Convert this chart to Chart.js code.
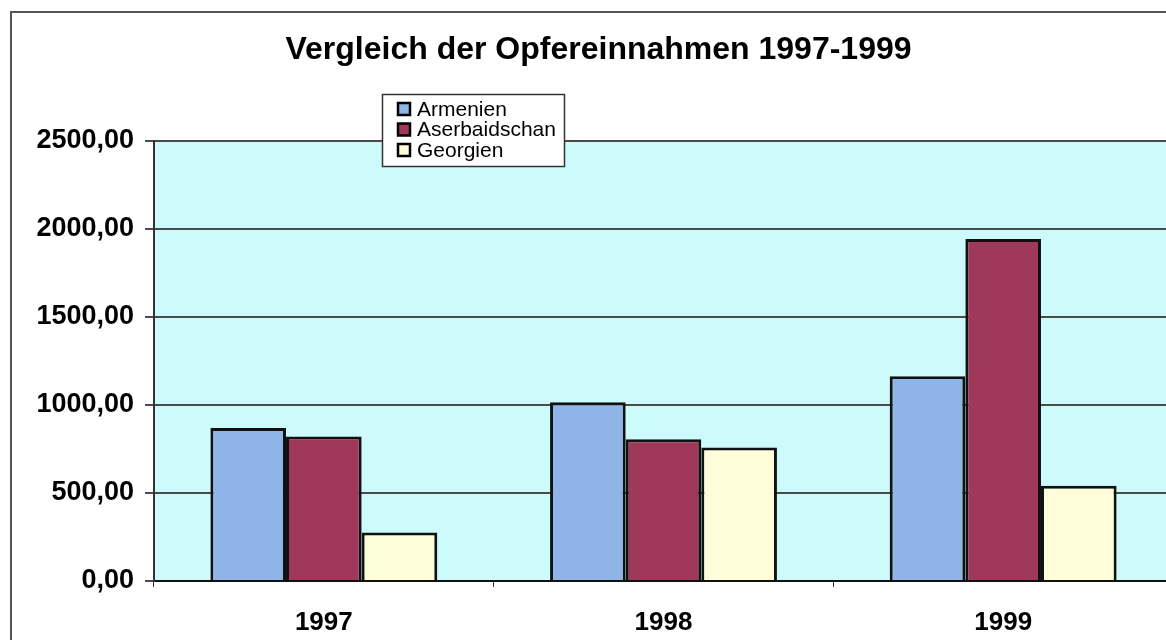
<!DOCTYPE html>
<html lang="de">
<head>
<meta charset="utf-8">
<title>Vergleich der Opfereinnahmen 1997-1999</title>
<script src="https://cdn.jsdelivr.net/npm/chart.js@4/dist/chart.umd.min.js"></script>
<style>
  html, body { margin: 0; padding: 0; background: #fff; overflow: hidden; }
  #wrap { position: absolute; left: 0; top: 0; width: 1190px; height: 640px; }
  #frame { position: absolute; left: 10px; top: 11px; width: 1300px; height: 700px; border: 2px solid #555; box-sizing: border-box; }
  #chart { position: absolute; left: 0; top: 0; }
</style>
</head>
<body>
<div id="wrap">
  <div id="frame"></div>
  <canvas id="chart" width="1190" height="640"></canvas>
</div>
<script>
// Opfereinnahmen je Land und Jahr
const years = ['1997', '1998', '1999'];
const armenien = [869, 1015, 1163];
const aserbaidschan = [821, 806, 1943];
const georgien = [275, 758, 541];
const yTicks = [0, 500, 1000, 1500, 2000, 2500];

const FONT = 'Arial, "Liberation Sans", sans-serif';

// light cyan plot background
const plotBackground = {
  id: 'plotBackground',
  beforeDraw(chart) {
    const { ctx, chartArea: a } = chart;
    ctx.save();
    ctx.fillStyle = '#cdfafa';
    ctx.fillRect(a.left, a.top, a.right - a.left, a.bottom - a.top);
    ctx.restore();
  }
};

// boxed legend sitting over the top of the plot
const boxLegend = {
  id: 'boxLegend',
  afterDraw(chart) {
    const ctx = chart.ctx;
    const x = 382, y = 94, w = 182, h = 72;
    ctx.save();
    ctx.fillStyle = '#fff';
    ctx.fillRect(x, y, w, h);
    ctx.strokeStyle = '#333';
    ctx.lineWidth = 1.5;
    ctx.strokeRect(x + 0.5, y + 0.5, w, h);
    ctx.font = '21px ' + FONT;
    ctx.textBaseline = 'middle';
    chart.data.datasets.forEach((ds, i) => {
      const cy = y + 15 + i * 20.5;
      ctx.fillStyle = ds.backgroundColor;
      ctx.fillRect(x + 16, cy - 6, 12, 12);
      ctx.strokeStyle = '#000';
      ctx.lineWidth = 2.5;
      ctx.strokeRect(x + 16, cy - 6, 12, 12);
      ctx.fillStyle = '#000';
      ctx.fillText(ds.label, x + 35, cy + 1);
    });
    ctx.restore();
  }
};

new Chart(document.getElementById('chart'), {
  type: 'bar',
  data: {
    labels: years,
    datasets: [
      { label: 'Armenien', data: armenien, backgroundColor: '#8eb4e8' },
      { label: 'Aserbaidschan', data: aserbaidschan, backgroundColor: '#a0385c' },
      { label: 'Georgien', data: georgien, backgroundColor: '#fffdd9' }
    ].map(ds => ({
      ...ds,
      borderColor: '#111',
      borderWidth: 3,
      categoryPercentage: 0.668,
      barPercentage: 1
    }))
  },
  options: {
    responsive: false,
    animation: false,
    // left padding only shifts the title centre; the y axis width keeps the plot at x=154
    layout: { padding: { left: 24, right: 17, top: 0, bottom: 0 } },
    plugins: {
      legend: { display: false },
      tooltip: { enabled: false },
      title: {
        display: true,
        text: 'Vergleich der Opfereinnahmen 1997-1999',
        color: '#000',
        font: { family: FONT, size: 32, weight: 'bold', lineHeight: 1.2 },
        padding: { top: 31, bottom: 71.6 }
      }
    },
    scales: {
      x: {
        offset: true,
        grid: {
          offset: true,
          drawOnChartArea: false,
          drawTicks: true,
          tickLength: 6,
          color: '#333'
        },
        border: { display: true, color: '#111', width: 2 },
        ticks: {
          color: '#000',
          padding: 20,
          font: { family: FONT, size: 26, weight: 'bold' }
        },
        afterFit(scale) { scale.height = 59; }
      },
      y: {
        min: 0,
        max: 2500,
        afterBuildTicks(scale) { scale.ticks = yTicks.map(v => ({ value: v })); },
        grid: { color: '#4a4a4a', lineWidth: 2, tickLength: 9 },
        border: { display: true, color: '#333', width: 2 },
        ticks: {
          color: '#000',
          padding: 11,
          font: { family: FONT, size: 27, weight: 'bold' },
          callback: v => v.toFixed(2).replace('.', ',')
        },
        afterFit(scale) { scale.width = 130; }
      }
    }
  },
  plugins: [plotBackground, boxLegend]
});
</script>
</body>
</html>
